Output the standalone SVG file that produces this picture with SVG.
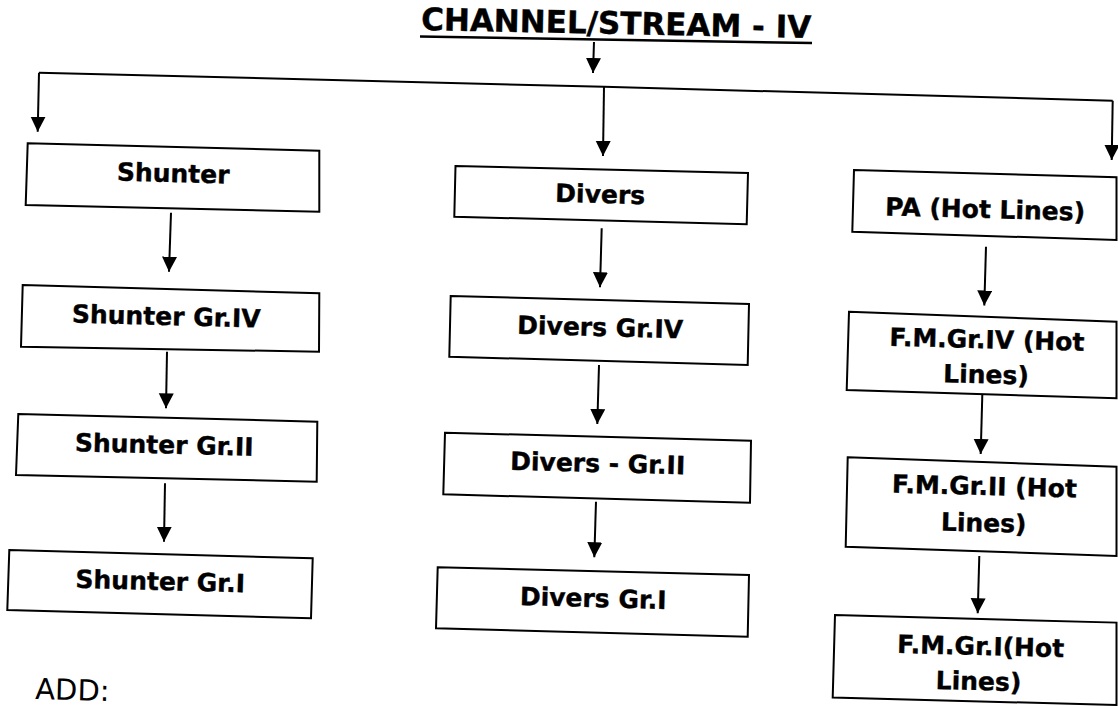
<svg xmlns="http://www.w3.org/2000/svg" width="1118" height="706" viewBox="0 0 1118 706">
<defs>
<style>
.box{fill:#fff;stroke:#000;stroke-width:2;stroke-linejoin:miter}
.lbl{font-family:"DejaVu Sans",Verdana,sans-serif;font-weight:bold;font-size:25px;text-anchor:middle;fill:#000;stroke:#000;stroke-width:0.4}
.title{font-family:"DejaVu Sans",Verdana,sans-serif;font-weight:bold;font-size:31px;text-anchor:middle;fill:#000;stroke:#000;stroke-width:0.4}
.plain{font-family:"DejaVu Sans",Verdana,sans-serif;font-size:29px;fill:#000}
.conn{stroke:#000;stroke-width:2;fill:none}
</style>
<marker id="ah" markerUnits="userSpaceOnUse" markerWidth="16" markerHeight="16" refX="15" refY="7.5" orient="auto">
<path d="M0,0 L15,7.5 L0,15 z" fill="#000"/>
</marker>
</defs>
<rect width="1118" height="706" fill="#fff"/>

<g id="title">
<text class="title" x="616" y="34" transform="rotate(1.2 616 34)">CHANNEL/STREAM - IV</text>
<line x1="420" y1="36.5" x2="812" y2="43" stroke="#000" stroke-width="2.5"/>
</g>

<g id="connectors">
<path class="conn" d="M594,42 L593,73" marker-end="url(#ah)"/>
<path class="conn" d="M39,72.7 L604,86.8 L1112.7,100.7"/>
<path class="conn" d="M39,72.7 L37.7,131.7" marker-end="url(#ah)"/>
<path class="conn" d="M604,86.8 L603,156" marker-end="url(#ah)"/>
<path class="conn" d="M1112.7,100.7 L1111.7,160" marker-end="url(#ah)"/>
<path class="conn" d="M171,212.7 L169,271.7" marker-end="url(#ah)"/>
<path class="conn" d="M167,351.7 L166,408.3" marker-end="url(#ah)"/>
<path class="conn" d="M165,483.3 L164,541.7" marker-end="url(#ah)"/>
<path class="conn" d="M601.7,228.3 L600,287.3" marker-end="url(#ah)"/>
<path class="conn" d="M599,365 L597.3,424" marker-end="url(#ah)"/>
<path class="conn" d="M596,501.7 L594.3,557.3" marker-end="url(#ah)"/>
<path class="conn" d="M986,246.7 L984.3,305.5" marker-end="url(#ah)"/>
<path class="conn" d="M982.3,395 L980.7,454" marker-end="url(#ah)"/>
<path class="conn" d="M979.3,556 L977.7,613.3" marker-end="url(#ah)"/>
</g>

<g id="shunter">
<polygon class="box" points="27.7,143.3 319.3,150.7 319.3,211.7 25.7,205"/>
<text class="lbl" x="173" y="182" transform="rotate(1.5 173 182)">Shunter</text>
</g>
<g id="shunter-gr4">
<polygon class="box" points="22.7,285 319.3,293.3 319,351.7 21,346.7"/>
<text class="lbl" x="166" y="325" transform="rotate(1.5 166 325)">Shunter Gr.IV</text>
</g>
<g id="shunter-gr2">
<polygon class="box" points="18.3,414 317.3,421.7 316.7,481.7 16,475"/>
<text class="lbl" x="164" y="453.5" transform="rotate(1.5 164 453.5)">Shunter Gr.II</text>
</g>
<g id="shunter-gr1">
<polygon class="box" points="9.3,550 312.7,558.3 311,618.3 7.3,610"/>
<text class="lbl" x="160" y="590" transform="rotate(1.5 160 590)">Shunter Gr.I</text>
</g>

<g id="divers">
<polygon class="box" points="455.5,166 748,173 746.7,224.3 454.3,216.7"/>
<text class="lbl" x="600" y="203" transform="rotate(1.5 600 203)">Divers</text>
</g>
<g id="divers-gr4">
<polygon class="box" points="450.7,296 749,304 747.7,365 449.3,356.7"/>
<text class="lbl" x="600" y="336" transform="rotate(1.5 600 336)">Divers Gr.IV</text>
</g>
<g id="divers-gr2">
<polygon class="box" points="445,432.7 751,440.7 750,502.7 443.3,494.3"/>
<text class="lbl" x="597.5" y="472" transform="rotate(1.5 597.5 472)">Divers - Gr.II</text>
</g>
<g id="divers-gr1">
<polygon class="box" points="437.7,567.3 749,575 747.7,636.7 436,628.3"/>
<text class="lbl" x="593" y="607" transform="rotate(1.5 593 607)">Divers Gr.I</text>
</g>

<g id="pa">
<polygon class="box" points="854,170 1116.5,177.3 1116.5,240 852.3,231.7"/>
<text class="lbl" x="985" y="218" transform="rotate(1.5 985 218)">PA (Hot Lines)</text>
</g>
<g id="fm-gr4">
<polygon class="box" points="849,311.7 1116.5,321.7 1116.5,398.3 846.7,390"/>
<text class="lbl" x="986.7" y="348.3" transform="rotate(1.5 986.7 348.3)">F.M.Gr.IV (Hot</text>
<text class="lbl" x="985.8" y="383.3" transform="rotate(1.5 985.8 383.3)">Lines)</text>
</g>
<g id="fm-gr2">
<polygon class="box" points="847.7,457.3 1116.5,466.7 1116.5,556 845.7,546.7"/>
<text class="lbl" x="984.2" y="495" transform="rotate(1.5 984.2 495)">F.M.Gr.II (Hot</text>
<text class="lbl" x="983.5" y="531.7" transform="rotate(1.5 983.5 531.7)">Lines)</text>
</g>
<g id="fm-gr1">
<polygon class="box" points="835,615 1116.5,622.6 1116.5,705 832.7,697.5"/>
<text class="lbl" x="980.5" y="655" transform="rotate(1.5 980.5 655)">F.M.Gr.I(Hot</text>
<text class="lbl" x="978.3" y="690" transform="rotate(1.5 978.3 690)">Lines)</text>
</g>

<g id="add">
<text class="plain" x="35" y="700" transform="rotate(1.5 72 700)">ADD:</text>
</g>
</svg>
